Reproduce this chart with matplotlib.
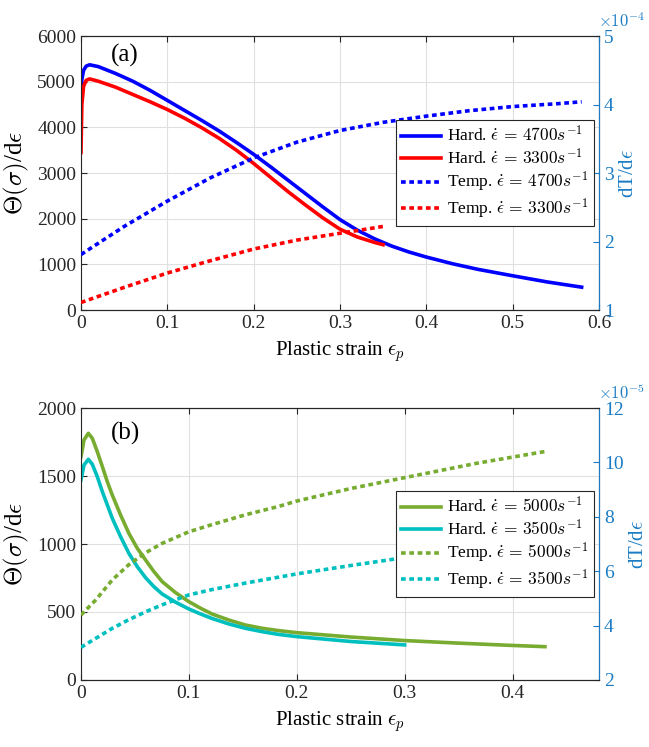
import numpy as np
import matplotlib
matplotlib.use('Agg')
import matplotlib.pyplot as plt

plt.rcParams['font.family'] = ['Liberation Serif', 'DejaVu Serif']
plt.rcParams['mathtext.fontset'] = 'cm'

# Panel (a) - hardening rate (left axis)
strain_hard_4700 = [0, 0.001, 0.003, 0.006, 0.01, 0.02, 0.04, 0.06, 0.08, 0.1, 0.12, 0.14, 0.16,
                    0.18, 0.2, 0.22, 0.24, 0.26, 0.28, 0.3, 0.32, 0.34, 0.36, 0.38, 0.4, 0.43,
                    0.46, 0.5, 0.54, 0.58]
hard_4700 = [4750, 5050, 5250, 5340, 5370, 5330, 5180, 5010, 4810, 4590, 4370, 4150, 3920,
             3670, 3410, 3130, 2840, 2550, 2260, 1980, 1750, 1560, 1400, 1270, 1160, 1015,
             890, 750, 615, 500]
strain_hard_3300 = [0, 0.001, 0.003, 0.006, 0.01, 0.02, 0.04, 0.06, 0.08, 0.1, 0.12, 0.14, 0.16,
                    0.18, 0.2, 0.22, 0.24, 0.26, 0.28, 0.3, 0.32, 0.34, 0.35]
hard_3300 = [3450, 4500, 4900, 5030, 5060, 5010, 4880, 4720, 4560, 4390, 4200, 3990, 3760,
             3500, 3210, 2900, 2590, 2300, 2020, 1770, 1600, 1480, 1430]

# Panel (a) - temperature rate (right axis, x1e-4)
strain_temp_4700 = [0, 0.05, 0.1, 0.15, 0.2, 0.25, 0.3, 0.35, 0.4, 0.45, 0.5, 0.55, 0.58]
temp_4700 = [1.81, 2.22, 2.59, 2.93, 3.22, 3.45, 3.62, 3.74, 3.83, 3.91, 3.97, 4.01, 4.04]
strain_temp_3300 = [0, 0.05, 0.1, 0.15, 0.2, 0.25, 0.3, 0.35]
temp_3300 = [1.11, 1.33, 1.54, 1.72, 1.89, 2.02, 2.12, 2.22]

# Panel (b) - hardening rate (left axis)
strain_hard_5000 = [0, 0.0028, 0.0068, 0.0105, 0.0151, 0.0198, 0.0244, 0.029, 0.0367, 0.0444,
                    0.0522, 0.0599, 0.0676, 0.0753, 0.0877, 0.1, 0.111, 0.1216, 0.137, 0.1525,
                    0.168, 0.1833, 0.2, 0.25, 0.3, 0.35, 0.4, 0.43]
hard_5000 = [1642, 1765, 1814, 1777, 1679, 1569, 1458, 1360, 1213, 1078,
             968, 882, 797, 723, 642, 576, 527, 485, 441, 404,
             380, 363, 348, 316, 290, 271, 254, 245]
strain_hard_3500 = [0, 0.0028, 0.0068, 0.0105, 0.0151, 0.0198, 0.0244, 0.029, 0.0367, 0.0444,
                    0.0522, 0.0599, 0.0676, 0.0753, 0.0877, 0.1, 0.111, 0.1216, 0.137, 0.1525,
                    0.168, 0.1833, 0.2, 0.25, 0.3]
hard_3500 = [1471, 1581, 1623, 1586, 1495, 1385, 1287, 1189, 1054, 931,
             833, 752, 686, 632, 572, 522, 485, 452, 412, 380,
             355, 335, 319, 283, 258]

# Panel (b) - temperature rate (right axis, x1e-5)
strain_temp_5000 = [0, 0.0136, 0.029, 0.044, 0.06, 0.075, 0.1, 0.122, 0.152, 0.183, 0.2,
                    0.25, 0.3, 0.367, 0.43]
temp_5000 = [4.39, 4.94, 5.68, 6.23, 6.68, 7.02, 7.45, 7.72, 8.07, 8.38, 8.58,
             9.04, 9.44, 9.97, 10.40]
strain_temp_3500 = [0, 0.0136, 0.029, 0.044, 0.06, 0.075, 0.1, 0.122, 0.152, 0.183, 0.2,
                    0.25, 0.3]
temp_3500 = [3.20, 3.53, 3.90, 4.21, 4.51, 4.76, 5.13, 5.33, 5.56, 5.78, 5.90,
             6.21, 6.50]

right_color = '#1a7cc4'
dotted = (0, (1.3, 1.0))
lw = 2.6

fig = plt.figure(figsize=(6.49, 7.47), dpi=100)


def style_axes(ax1, ax2):
    ax1.grid(True, color='#e0e0e0', linewidth=0.8)
    ax1.set_axisbelow(True)
    ax1.tick_params(direction='in', top=True, labelsize=14, length=4, colors='#262626')
    ax2.tick_params(direction='in', labelsize=14, length=4, colors=right_color)
    for s in ['left', 'bottom', 'top']:
        ax1.spines[s].set_color('#262626')
    ax2.spines['right'].set_color(right_color)
    ax2.spines['left'].set_visible(False)
    ax2.spines['top'].set_color('#262626')
    ax2.spines['bottom'].set_color('#262626')
    ax1.set_ylabel(r'$\Theta(\sigma)$/d$\epsilon$', fontsize=18, labelpad=4)
    ax2.set_ylabel(r'dT/d$\epsilon$', fontsize=15, color=right_color)
    ax1.set_xlabel(r'Plastic strain $\epsilon_p$', fontsize=15, labelpad=5)


def add_legend(ax, handles):
    leg = ax.legend(handles=handles, loc='center right', fontsize=12.5,
                    frameon=True, fancybox=False, framealpha=1, edgecolor='#262626',
                    borderaxespad=0.3, handlelength=2.3, handletextpad=0.35,
                    labelspacing=0.12, borderpad=0.3)
    leg.get_frame().set_linewidth(0.8)


# (a)
ax1 = fig.add_axes([0.1248, 0.585, 0.798, 0.3668])
ax2 = ax1.twinx()
h1, = ax1.plot(strain_hard_4700, hard_4700, color='blue', lw=lw, label=r'Hard. $\dot{\epsilon}\,=\,4700s^{-1}$')
h2, = ax1.plot(strain_hard_3300, hard_3300, color='red', lw=lw, label=r'Hard. $\dot{\epsilon}\,=\,3300s^{-1}$')
h3, = ax2.plot(strain_temp_4700, temp_4700, color='blue', lw=lw, ls=dotted, dash_capstyle='butt',
               label=r'Temp. $\dot{\epsilon}\,=\,4700s^{-1}$')
h4, = ax2.plot(strain_temp_3300, temp_3300, color='red', lw=lw, ls=dotted, dash_capstyle='butt',
               label=r'Temp. $\dot{\epsilon}\,=\,3300s^{-1}$')
ax1.set_xlim(0, 0.6)
ax1.set_ylim(0, 6000)
ax1.set_xticks([0, 0.1, 0.2, 0.3, 0.4, 0.5, 0.6])
ax1.set_xticklabels(['0', '0.1', '0.2', '0.3', '0.4', '0.5', '0.6'])
ax1.set_yticks(np.arange(0, 6001, 1000))
ax2.set_ylim(1, 5)
ax2.set_yticks([1, 2, 3, 4, 5])
style_axes(ax1, ax2)
ax2.text(0.998, 1.02, r'$\times10^{-4}$', transform=ax2.transAxes, color=right_color,
         fontsize=12, ha='left', va='bottom')
ax1.text(0.085, 0.93, '(a)', transform=ax1.transAxes, fontsize=18, ha='center', va='center')
add_legend(ax2, [h1, h2, h3, h4])

# (b)
bx1 = fig.add_axes([0.1248, 0.0897, 0.798, 0.3641])
bx2 = bx1.twinx()
g1, = bx1.plot(strain_hard_5000, hard_5000, color='#77ac30', lw=lw, label=r'Hard. $\dot{\epsilon}\,=\,5000s^{-1}$')
g2, = bx1.plot(strain_hard_3500, hard_3500, color='#00bfbf', lw=lw, label=r'Hard. $\dot{\epsilon}\,=\,3500s^{-1}$')
g3, = bx2.plot(strain_temp_5000, temp_5000, color='#77ac30', lw=lw, ls=dotted, dash_capstyle='butt',
               label=r'Temp. $\dot{\epsilon}\,=\,5000s^{-1}$')
g4, = bx2.plot(strain_temp_3500, temp_3500, color='#00bfbf', lw=lw, ls=dotted, dash_capstyle='butt',
               label=r'Temp. $\dot{\epsilon}\,=\,3500s^{-1}$')
bx1.set_xlim(0, 0.48)
bx1.set_ylim(0, 2000)
bx1.set_xticks([0, 0.1, 0.2, 0.3, 0.4])
bx1.set_xticklabels(['0', '0.1', '0.2', '0.3', '0.4'])
bx1.set_yticks(np.arange(0, 2001, 500))
bx2.set_ylim(2, 12)
bx2.set_yticks([2, 4, 6, 8, 10, 12])
style_axes(bx1, bx2)
bx2.text(0.998, 1.02, r'$\times10^{-5}$', transform=bx2.transAxes, color=right_color,
         fontsize=12, ha='left', va='bottom')
bx1.text(0.085, 0.906, '(b)', transform=bx1.transAxes, fontsize=18, ha='center', va='center')
add_legend(bx2, [g1, g2, g3, g4])

plt.savefig('out.png', dpi=100)
